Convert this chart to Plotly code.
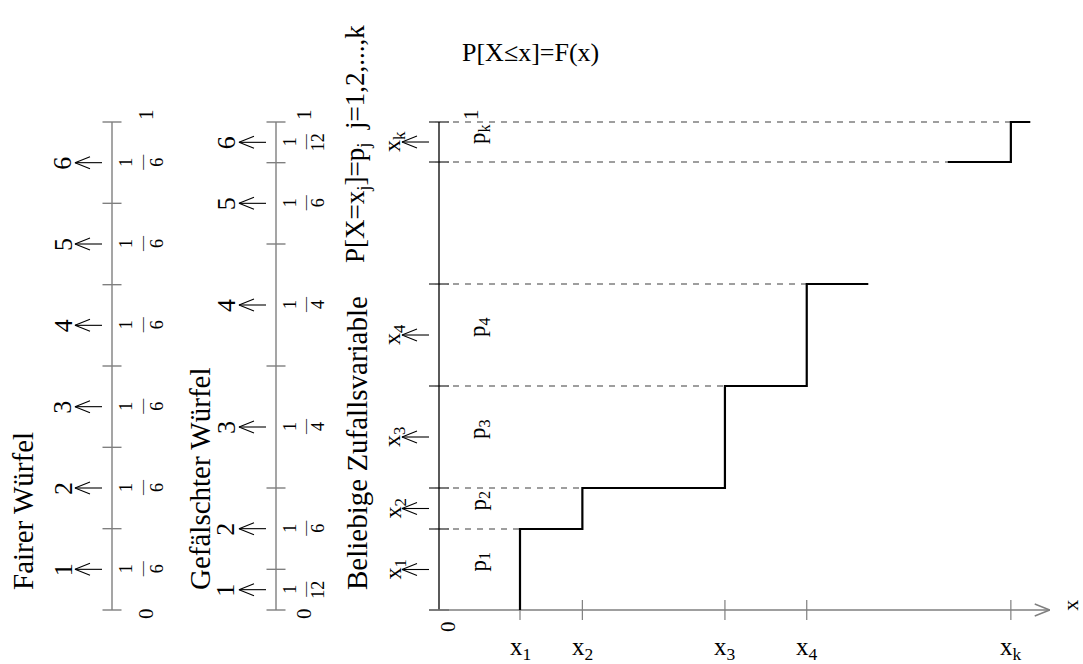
import numpy as np
import plotly.graph_objects as go

# ---------------- data ----------------
fair_labels = ["1", "2", "3", "4", "5", "6"]
fair_probs = [1/6, 1/6, 1/6, 1/6, 1/6, 1/6]
fair_num = ["1", "1", "1", "1", "1", "1"]
fair_den = ["6", "6", "6", "6", "6", "6"]

loaded_labels = ["1", "2", "3", "4", "5", "6"]
loaded_probs = [1/12, 1/6, 1/4, 1/4, 1/6, 1/12]
loaded_num = ["1", "1", "1", "1", "1", "1"]
loaded_den = ["12", "6", "4", "4", "6", "12"]

rv_labels = ["x<sub>1</sub>", "x<sub>2</sub>", "x<sub>3</sub>", "x<sub>4</sub>", "x<sub>k</sub>"]
rv_prob_labels = ["p<sub>1</sub>", "p<sub>2</sub>", "p<sub>3</sub>", "p<sub>4</sub>", "p<sub>k</sub>"]
rv_x = [1.0, 1.77, 3.53, 4.54, 7.06]          # positions of x_1..x_4, x_k
rv_probs = [0.166, 0.084, 0.209, 0.209, 0.082]  # p_1..p_4, p_k
rv_step_end = 5.30      # where the drawn step after x_4 stops
rv_step_resume = 6.28   # where the step before x_k resumes
rv_step_final = 7.30    # end of the drawn step after x_k
x_axis_end = 7.54

# ---------------- layout constants ----------------
W, H = 1083, 664
Y0_PX, Y1_PX = 610, 122            # pixel rows of probability 0 and 1
PPX = Y0_PX - Y1_PX                  # pixels per unit probability
X_ORIGIN_PX, X_UNIT_PX = 439, 81     # main chart origin and unit
FONT = "Liberation Serif"
GRAY = "#7f7f7f"


def yp(px):
    """pixel row -> probability coordinate"""
    return (Y0_PX - px) / PPX


def dy(px):
    return px / PPX


fig = go.Figure()


def add_line(xs, ys, color="black", width=1.2, dash=None, xaxis="x"):
    fig.add_trace(go.Scatter(x=xs, y=ys, mode="lines", xaxis=xaxis, yaxis="y",
                             line=dict(color=color, width=width, dash=dash),
                             hoverinfo="skip", showlegend=False))


def text(x, y, t, size, angle=0, xref="x", xanchor="center", yanchor="middle"):
    fig.add_annotation(x=x, y=y, xref=xref, yref="y", text=t, showarrow=False,
                       textangle=angle, xanchor=xanchor, yanchor=yanchor,
                       font=dict(family=FONT, size=size, color="black"))


def left_arrows(x_from, x_to, ys, color="black"):
    xs, yv = [], []
    for y in ys:
        xs += [x_from, x_to, None, x_to + 15, x_to, x_to + 15, None]
        yv += [y, y, None, y + dy(6), y, y - dy(6), None]
    add_line(xs, yv, color=color, width=1.1)


def die_strip(axis_px, probs, labels, num, den, num_px, bar_px, den_px, lab_px, zero_px):
    cum = np.concatenate([[0.0], np.cumsum(probs)])
    add_line([axis_px, axis_px], [0, 1], color=GRAY, width=1.4)
    xs, ys = [], []
    for c in cum:
        xs += [axis_px - 9.5, axis_px + 9.5, None]
        ys += [c, c, None]
    add_line(xs, ys, color=GRAY, width=1.4)
    mids = (cum[:-1] + cum[1:]) / 2
    left_arrows(axis_px - 10, axis_px - 37, mids)
    for m, lab, n, d in zip(mids, labels, num, den):
        text(lab_px, m - dy(1), lab, 26, angle=-90)
        text(num_px, m, n, 18, angle=-90)
        text(bar_px, m, "—", 15, angle=-90)
        text(den_px, m, d, 18, angle=-90)
    text(zero_px, yp(614), "0", 21, angle=-90)
    text(zero_px, yp(115), "1", 21, angle=-90)


# fair die
die_strip(112, fair_probs, fair_labels, fair_num, fair_den, 126, 142, 157, 63, 146)
text(23, yp(592), "Fairer Würfel", 29, angle=-90, yanchor="bottom")

# loaded die
die_strip(276, loaded_probs, loaded_labels, loaded_num, loaded_den, 290, 305, 318, 226, 304)
text(200, yp(592), "Gefälschter Würfel", 29, angle=-90, yanchor="bottom")

# arbitrary random variable
text(357, yp(592), "Beliebige Zufallsvariable", 29, angle=-90, yanchor="bottom")
text(357, yp(265), "P[X=x<sub>j</sub>]=p<sub>j</sub>  j=1,2,...,k", 27, angle=-90, yanchor="bottom")
text(530, yp(52), "P[X≤x]=F(x)", 26)

probs = np.array(rv_probs)
cdf_after = list(np.cumsum(probs[:4])) + [1.0]
cdf_before = [0.0] + list(np.cumsum(probs[:3])) + [1.0 - probs[4]]
tick = 10 / X_UNIT_PX
# main vertical axis and its ticks
add_line([0, 0], [0, 1], color="black", width=1.3, xaxis="x2")
levels = [0.0] + cdf_after[:4] + [cdf_before[4], 1.0]
xs, ys = [], []
for L in levels:
    xs += [-tick * 1.0, tick, None]
    ys += [L, L, None]
add_line(xs, ys, color="black", width=1.1, xaxis="x2")

# dashed guide lines
dash_ends = [rv_x[0], rv_x[1], rv_x[2], rv_x[3], rv_step_resume, rv_x[4]]
dash_levels = cdf_after[:4] + [cdf_before[4], 1.0]
xs, ys = [], []
for L, e in zip(dash_levels, dash_ends):
    xs += [-tick, e, None]
    ys += [L, L, None]
add_line(xs, ys, color=GRAY, width=1.3, dash="6px,6px", xaxis="x2")

# x axis
add_line([-tick, x_axis_end], [0, 0], color=GRAY, width=1.6, xaxis="x2")
ah = 15 / X_UNIT_PX
add_line([x_axis_end - ah, x_axis_end, x_axis_end - ah], [dy(6), 0, -dy(6)],
         color=GRAY, width=1.4, xaxis="x2")
xs, ys = [], []
for xv in rv_x:
    xs += [xv, xv, None]
    ys += [dy(10), -dy(10), None]
add_line(xs, ys, color=GRAY, width=1.2, xaxis="x2")

# CDF step function
sx = [rv_x[0], rv_x[0], rv_x[1], rv_x[1], rv_x[2], rv_x[2], rv_x[3], rv_x[3], rv_step_end]
sy = [0, cdf_after[0], cdf_after[0], cdf_after[1], cdf_after[1], cdf_after[2],
      cdf_after[2], cdf_after[3], cdf_after[3]]
add_line(sx, sy, color="black", width=2.2, xaxis="x2")
add_line([rv_step_resume, rv_x[4], rv_x[4], rv_step_final],
         [cdf_before[4], cdf_before[4], 1.0, 1.0], color="black", width=2.2, xaxis="x2")

# arrows + labels on main vertical axis
mids = [(a + b) / 2 for a, b in zip(cdf_before, cdf_after)]
left_arrows(429, 402, mids)
for m, lab, pl in zip(mids, rv_labels, rv_prob_labels):
    text(394, m, lab, 24, angle=-90)
    text(479, m + dy(8), pl, 23, angle=-90)

# axis labels
text(448, yp(627), "0", 21, angle=-90)
text(471, yp(115), "1", 21, angle=-90)
for xv, lab in zip(rv_x, rv_labels):
    text(xv, yp(648), lab, 25, xref="x2")
text(x_axis_end + 20 / X_UNIT_PX, yp(605), "x", 22, angle=-90, xref="x2")

fig.update_layout(
    width=W, height=H, margin=dict(l=0, r=0, t=0, b=0),
    paper_bgcolor="white", plot_bgcolor="white",
    xaxis=dict(range=[0, W], domain=[0, 1], visible=False, fixedrange=True),
    xaxis2=dict(range=[-X_ORIGIN_PX / X_UNIT_PX, (W - X_ORIGIN_PX) / X_UNIT_PX],
                domain=[0, 1], overlaying="x", anchor="y", visible=False),
    yaxis=dict(range=[yp(H), yp(0)], domain=[0, 1], visible=False),
    showlegend=False,
)

fig.write_html("out.html")
